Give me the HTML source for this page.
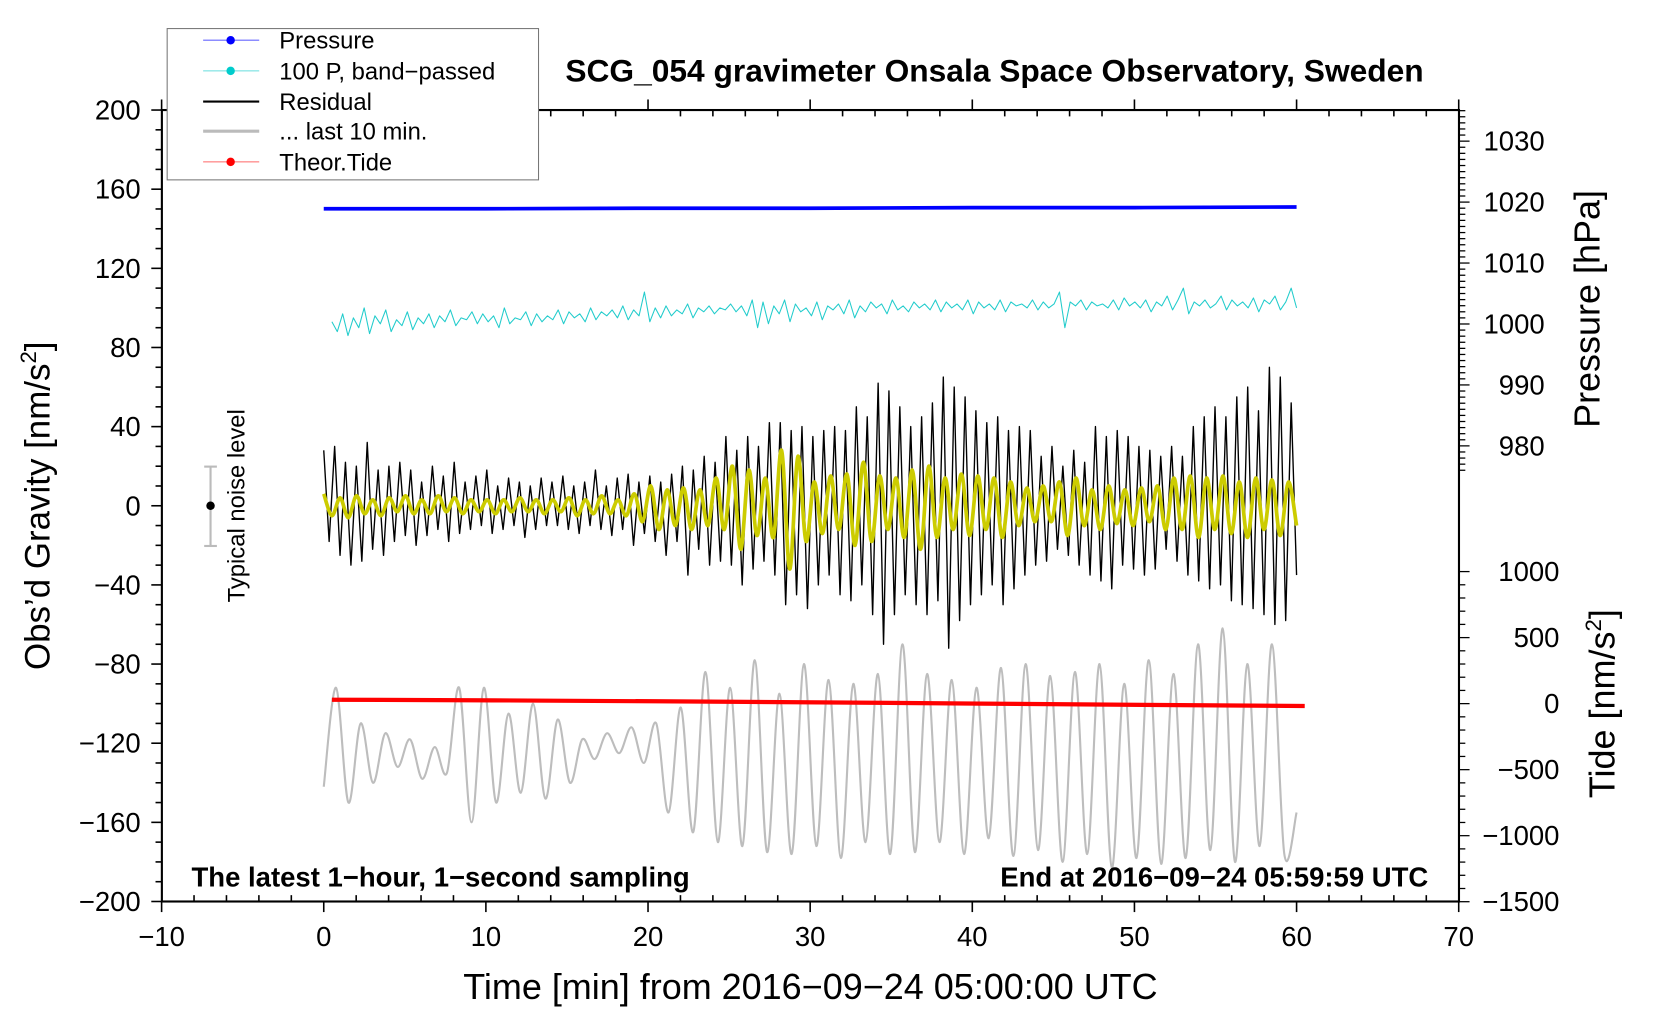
<!DOCTYPE html>
<html><head><meta charset="utf-8"><style>
html,body{margin:0;padding:0;background:#fff;}
svg{display:block;font-family:"Liberation Sans",Arial,sans-serif;}
</style></head><body>
<svg id="chart" width="1660" height="1020" viewBox="0 0 1569 964" preserveAspectRatio="none" xmlns="http://www.w3.org/2000/svg">
<rect x="0" y="0" width="1569" height="964" fill="#fff"/>
<g id="ticks"></g>
<g id="series"></g>
<rect x="153" y="104" width="1226" height="748" fill="none" stroke="#000" stroke-width="2"/>
<text x="940" y="77" font-size="30" font-weight="bold" text-anchor="middle">SCG_054 gravimeter Onsala Space Observatory, Sweden</text>
<text x="766" y="944" font-size="34" text-anchor="middle">Time [min] from 2016−09−24 05:00:00 UTC</text>
<text transform="translate(47,478) rotate(-90)" font-size="33" text-anchor="middle">Obs’d Gravity [nm/s<tspan font-size="21" dy="-13">2</tspan><tspan dy="13">]</tspan></text>
<text transform="translate(1512,292) rotate(-90)" font-size="34" text-anchor="middle">Pressure [hPa]</text>
<text transform="translate(1526,665) rotate(-90)" font-size="34" text-anchor="middle">Tide [nm/s<tspan font-size="21" dy="-13">2</tspan><tspan dy="13">]</tspan></text>
<text x="181" y="838" font-size="26" font-weight="bold">The latest 1−hour, 1−second sampling</text>
<text x="1350" y="838" font-size="26" font-weight="bold" text-anchor="end">End at 2016−09−24 05:59:59 UTC</text>
<g>
<line x1="199" y1="441" x2="199" y2="516" stroke="#bbb" stroke-width="2"/>
<line x1="193" y1="441" x2="205" y2="441" stroke="#bbb" stroke-width="2"/>
<line x1="193" y1="516" x2="205" y2="516" stroke="#bbb" stroke-width="2"/>
<circle cx="199" cy="478" r="4" fill="#000"/>
<text transform="translate(231,478) rotate(-90)" font-size="22.5" text-anchor="middle">Typical noise level</text>
</g>
<g>
<rect x="158" y="27" width="351" height="143" fill="#fff" stroke="#777" stroke-width="1"/>
<g><line x1="192" y1="38" x2="245" y2="38" stroke="#66f" stroke-width="1"/><circle cx="218" cy="38" r="4" fill="#00f"/><text x="264" y="46" font-size="22.5">Pressure</text></g>
<g><line x1="192" y1="67" x2="245" y2="67" stroke="#6dd" stroke-width="1"/><circle cx="218" cy="67" r="4" fill="#0cc"/><text x="264" y="75" font-size="22.5">100 P, band−passed</text></g>
<g><line x1="192" y1="96" x2="245" y2="96" stroke="#000" stroke-width="2"/><text x="264" y="104" font-size="22.5">Residual</text></g>
<g><line x1="192" y1="124" x2="245" y2="124" stroke="#bbb" stroke-width="3"/><text x="264" y="132" font-size="22.5">... last 10 min.</text></g>
<g><line x1="192" y1="153" x2="245" y2="153" stroke="#f66" stroke-width="1"/><circle cx="218" cy="153" r="4" fill="#f00"/><text x="264" y="161" font-size="22.5">Theor.Tide</text></g>
</g>
</svg>
<script>
const residual=[28,-18,30,-25,22,-30,
20,-28,32,-22,18,-25,20,-18,22,
-15,18,-20,12,-15,20,-12,15,-18,22,-14,12,
-12,15,-10,18,-14,10,-12,14,-10,12,-16,10,-12,14,-10,
12,-10,15,-12,10,-14,12,-10,18,-12,10,-15,14,-12,16,-20,12,-14,
15,-18,12,-25,16,-18,20,-35,18,
-22,25,-30,22,-28,35,
-30,28,-40,35,-32,30,-28,42,-35,
42,-50,38,-45,40,-52,35,-40,38,
-35,40,-45,38,-48,50,-40,45,-55,
62,-70,58,-55,50,-45,
40,-50,45,-55,52,-48,
65,-72,60,-58,55,-50,48,-45,42,
-40,45,-50,38,-42,40,-35,38,-30,
25,-28,30,-22,20,-25,28,-30,22,
-35,40,-38,35,-42,38,-30,35,-32,
30,-35,28,-32,25,-22,30,-28,25,
-35,40,-38,45,-42,50,-40,45,-48,
55,-50,60,-52,48,-55,
70,-60,65,-58,52,-35];
const filtered=[6,-5,4,-6,5,-4,3,-5,4,-3,5,-4,3,-4,5,-3,4,-4,3,-3,
3,-4,3,-3,4,-3,3,-4,3,-3,4,-5,3,-4,5,-4,3,-5,6,-8,
10,-12,8,-10,9,-12,8,-10,14,-12,
20,-22,18,-15,14,-16,28,-32,25,-18,
12,-14,15,-12,16,-20,22,-18,15,-12,
14,-16,18,-22,20,-16,14,-12,16,-15,
15,-12,14,-16,12,-10,9,-8,10,-8,
12,-15,14,-10,8,-12,10,-9,8,-10,
9,-8,10,-12,14,-12,15,-16,14,-12,
15,-14,12,-16,14,-12,13,-15,12,-10];
const bandpassed=[93,88,97,86,95,90,100,87,96,92,99,88,94,91,98,89,95,92,97,90,96,93,99,91,95,94,98,92,97,93,96,90,100,92,95,94,98,91,97,93,
96,94,99,92,98,95,97,93,100,94,98,96,99,95,101,94,99,96,108,93,100,95,101,96,99,97,102,95,100,98,101,97,100,99,102,98,101,96,104,90,
103,92,101,97,104,93,102,98,100,96,103,94,101,99,102,97,104,95,101,98,103,100,102,97,104,99,101,98,103,100,102,99,104,98,103,100,102,99,104,97,
103,100,102,99,104,98,103,101,102,100,104,99,103,100,102,108,90,103,101,104,99,103,101,102,100,104,99,105,101,103,100,104,98,103,101,106,99,104,110,97,
103,101,104,100,102,106,99,104,101,103,100,105,98,104,102,106,99,103,110,100];
const last10=[-142,-92,-150,-110,-140,-115,-132,-118,-138,-122,
-135,-92,-160,-92,-150,-105,-145,-100,-148,-108,
-140,-118,-128,-115,-125,-112,-130,-110,-155,-102,
-165,-84,-170,-92,-172,-78,-175,-95,-176,-80,
-172,-88,-178,-90,-170,-85,-176,-70,-175,-85,
-170,-88,-176,-92,-168,-82,-177,-80,-174,-86,
-180,-84,-176,-80,-183,-90,-178,-78,-181,-85,
-178,-70,-174,-62,-180,-80,-172,-70,-176,-155];
const pressure=[1018.9,1018.9,1019.0,1019.0,1019.1,1019.1,1019.2];
const tide=[30,25,18,10,0,-10,-18];
const xTicks=[-10,0,10,20,30,40,50,60,70];
const yTicks=[200,160,120,80,40,0,-40,-80,-120,-160,-200];
const pTicks=[1030,1020,1010,1000,990,980];
const tTicks=[1000,500,0,-500,-1000,-1500];

const NS='http://www.w3.org/2000/svg';
const X=t=>306+t*15.325;
const Y=v=>478-v*1.87;
const P=h=>191-(h-1020)*5.76;
const T=v=>665-v*0.1248;
const sg=document.getElementById('series'), tg=document.getElementById('ticks');
function mk(tag,attrs,parent){const e=document.createElementNS(NS,tag);for(const k in attrs)e.setAttribute(k,attrs[k]);parent.appendChild(e);return e;}
function line(x1,y1,x2,y2,w){return mk('line',{x1:x1,y1:y1,x2:x2,y2:y2,stroke:'#000','stroke-width':w||1.5},tg);}
function txt(x,y,s,anchor){const e=mk('text',{x:x,y:y,'font-size':26,'text-anchor':anchor},tg);e.textContent=s;return e;}
for(let t=-10;t<=70;t+=2){const maj=t%10===0;line(X(t),852,X(t),maj?862:846,1.5);line(X(t),104,X(t),maj?94:110,1.5);}
xTicks.forEach(t=>{const e=txt(X(t),894,String(t).replace('-','−'),'middle');

});
for(let v=-200;v<=200;v+=10){const maj=v%40===0;line(153,Y(v),maj?143:147,Y(v),1.5);}
yTicks.forEach(v=>{const e=txt(133,Y(v)+9,String(v).replace('-','−'),'end');

});
for(let h=976;h<=1035;h+=1){const maj=h%10===0;line(1379,P(h),maj?1389:1385,P(h),1.2);}
pTicks.forEach(h=>{const e=txt(1460,P(h)+9,String(h),'end');

});
for(let v=-1500;v<=1000;v+=100){const maj=v%500===0;line(1379,T(v),maj?1389:1385,T(v),1.2);}
tTicks.forEach(v=>{const e=txt(1474,T(v)+9,String(v).replace('-','−'),'end');

});

function poly(arr,fy,t0,t1,color,w,name){
 const n=arr.length;const pts=arr.map((v,i)=>X(t0+(t1-t0)*i/(n-1)).toFixed(1)+','+fy(v).toFixed(1)).join(' ');
 const e=mk('polyline',{points:pts,fill:'none',stroke:color,'stroke-width':w,'stroke-linejoin':'round'},sg);
 
 
 return e;}
function smooth(arr,fy,t0,t1,color,w,name){
 const n=arr.length;const p=arr.map((v,i)=>[X(t0+(t1-t0)*i/(n-1)),fy(v)]);
 let d='M'+p[0][0]+','+p[0][1];
 for(let i=0;i<n-1;i++){const a=p[Math.max(0,i-1)],b=p[i],c=p[i+1],e2=p[Math.min(n-1,i+2)];
  d+=' C'+(b[0]+(c[0]-a[0])/6).toFixed(1)+','+(b[1]+(c[1]-a[1])/6).toFixed(1)+' '+(c[0]-(e2[0]-b[0])/6).toFixed(1)+','+(c[1]-(e2[1]-b[1])/6).toFixed(1)+' '+c[0].toFixed(1)+','+c[1].toFixed(1);}
 const e=mk('path',{d:d,fill:'none',stroke:color,'stroke-width':w},sg);
 
 
 return e;}
smooth(last10,Y,0,60,'#bdbdbd',2,'last-10-min-line');
poly(pressure,P,0,60,'#0000ff',3.5,'pressure-line');
poly(bandpassed,Y,0.5,60,'#22cccc',1,'bandpassed-pressure-line');
poly(residual,Y,0,60,'#000',1.3,'residual-line');
smooth(filtered,Y,0,60,'#cccc00',3.5,'filtered-residual-line');
poly(tide,T,0.5,60.5,'#ff0000',4,'theoretical-tide-line');
</script>
</body></html>
